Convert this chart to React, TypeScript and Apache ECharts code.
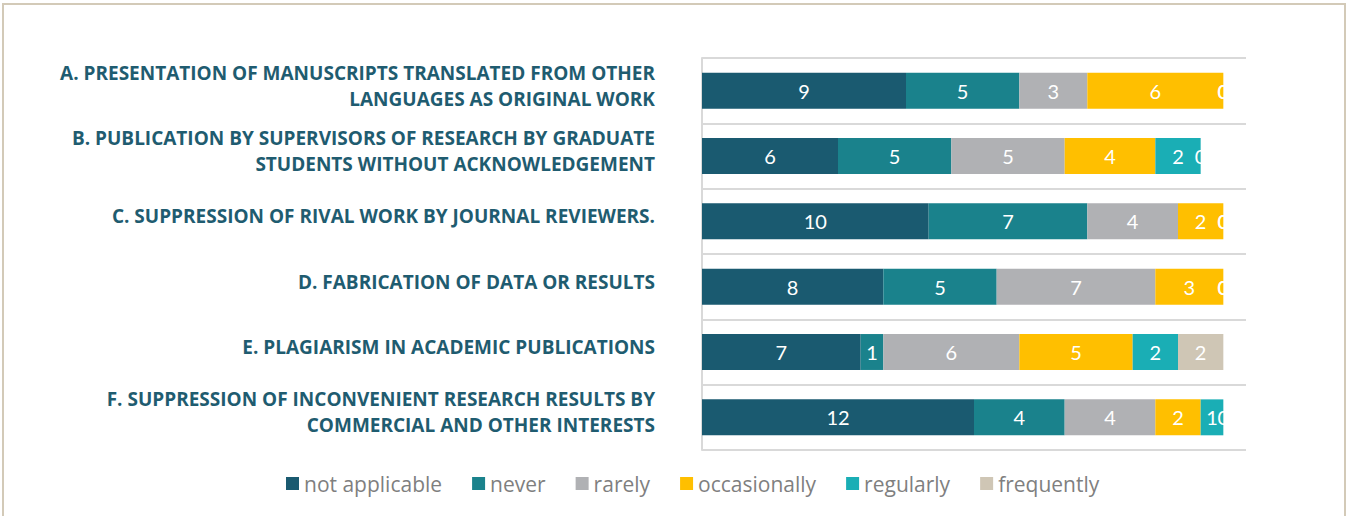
import React, { useEffect, useRef } from "react";
import * as echarts from "echarts";

const categories = [
  "A. PRESENTATION OF MANUSCRIPTS TRANSLATED FROM OTHER\nLANGUAGES AS ORIGINAL WORK",
  "B. PUBLICATION BY SUPERVISORS OF RESEARCH BY GRADUATE\nSTUDENTS WITHOUT ACKNOWLEDGEMENT",
  "C. SUPPRESSION OF RIVAL WORK BY JOURNAL REVIEWERS.",
  "D. FABRICATION OF DATA OR RESULTS",
  "E. PLAGIARISM IN ACADEMIC PUBLICATIONS",
  "F. SUPPRESSION OF INCONVENIENT RESEARCH RESULTS BY\nCOMMERCIAL AND OTHER INTERESTS",
];

const seriesNames = ["not applicable", "never", "rarely", "occasionally", "regularly", "frequently"];
const notApplicable = [9, 6, 10, 8, 7, 12];
const never = [5, 5, 7, 5, 1, 4];
const rarely = [3, 5, 4, 7, 6, 4];
const occasionally = [6, 4, 2, 3, 5, 2];
const regularly = [0, 2, 0, 0, 2, 1];
const frequently = [0, 0, 0, 0, 2, 0];
const seriesValues = [notApplicable, never, rarely, occasionally, regularly, frequently];
const colors = ["#1a5a70", "#1a828c", "#b0b1b4", "#ffbf00", "#1aaeb5", "#cfc6b5"];

export default function App() {
  const ref = useRef<HTMLDivElement>(null);
  useEffect(() => {
    document.body.style.margin = "0";
    const chart = echarts.init(ref.current!, null, { renderer: "svg" });
    chart.setOption({
      animation: false,
      textStyle: { fontFamily: "Lato" },
      grid: { left: 702, right: 102, top: 58, bottom: 66, containLabel: false },
      legend: {
        data: seriesNames,
        left: 281,
        top: 468,
        icon: "rect",
        itemWidth: 13,
        itemHeight: 13,
        itemGap: 30,
        textStyle: { fontSize: 21, color: "#7f7f7f", fontFamily: "Open Sans" },
      },
      xAxis: {
        type: "value",
        min: 0,
        max: 24,
        show: false,
        splitLine: { show: false },
      },
      yAxis: {
        type: "category",
        data: categories,
        inverse: true,
        axisTick: { show: false },
        axisLine: { show: true, lineStyle: { color: "#d9d9d9", width: 2 } },
        splitLine: { show: true, lineStyle: { color: "#d9d9d9", width: 2 } },
        axisLabel: {
          margin: 47,
          align: "right",
          fontSize: 19,
          fontWeight: "bold",
          color: "#1f5c70",
          lineHeight: 26,
          fontFamily: "Open Sans",
          formatter: (v: string) => `${v}\n{s| }`,
          rich: { s: { lineHeight: 10, fontSize: 4 } },
        },
      },
      series: seriesNames.map((name, i) => ({
        name,
        type: "bar",
        stack: "total",
        barWidth: "55%",
        data: seriesValues[i],
        itemStyle: { color: colors[i] },
        label: {
          show: true,
          position: "inside",
          color: "#ffffff",
          fontSize: 20,
          fontFamily: "Lato",
        },
      })),
    });
    return () => chart.dispose();
  }, []);
  return (
    <div style={{ position: "absolute", left: 0, top: 0, width: 1348, height: 516, background: "#fff" }}>
      <div
        style={{
          position: "absolute",
          left: 2,
          top: 3,
          width: 1340,
          height: 530,
          borderTop: "2px solid #d3cab8",
          borderLeft: "2px solid #d3cab8",
          borderRight: "2px solid #d3cab8",
        }}
      />
      <div ref={ref} style={{ position: "absolute", left: 0, top: 0, width: 1348, height: 516 }} />
    </div>
  );
}
